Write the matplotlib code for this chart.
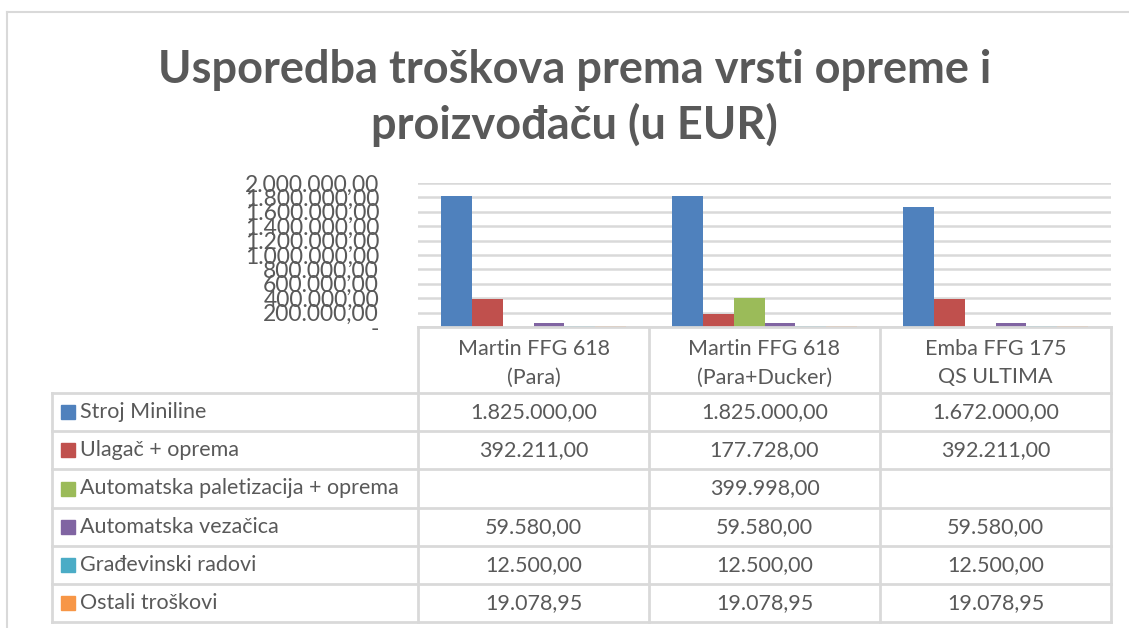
import matplotlib
matplotlib.use("Agg")
import matplotlib.pyplot as plt
import numpy as np

# ---- data ----
categories = ["Martin FFG 618\n(Para)", "Martin FFG 618\n(Para+Ducker)", "Emba FFG 175\nQS ULTIMA"]
series_names = ["Stroj Miniline", "Ulagač + oprema", "Automatska paletizacija + oprema",
                "Automatska vezačica", "Građevinski radovi", "Ostali troškovi"]
stroj = [1825000.00, 1825000.00, 1672000.00]
ulagac = [392211.00, 177728.00, 392211.00]
paletizacija = [None, 399998.00, None]
vezacica = [59580.00, 59580.00, 59580.00]
gradevinski = [12500.00, 12500.00, 12500.00]
ostali = [19078.95, 19078.95, 19078.95]
series_values = [stroj, ulagac, paletizacija, vezacica, gradevinski, ostali]
y_ticks = [0, 200000, 400000, 600000, 800000, 1000000, 1200000, 1400000, 1600000, 1800000, 2000000]
title = "Usporedba troškova prema vrsti opreme i\nproizvođaču (u EUR)"

colors = ["#4F81BD", "#C0504D", "#9BBB59", "#8064A2", "#4BACC6", "#F79646"]
TXT = "#595959"
GRID = "#D9D9D9"
FONT = "Lato"

def fmt(v):
    if v is None:
        return ""
    s = f"{v:,.2f}"
    return s.replace(",", "X").replace(".", ",").replace("X", ".")

W, H = 1129, 628
fig = plt.figure(figsize=(W / 100, H / 100), dpi=100)
fig.patch.set_facecolor("white")

def fx(px):
    return px / W

def fy(py):
    return 1 - py / H

# plot area
L, R, T, B = 418, 1111, 183, 327
ax = fig.add_axes([fx(L), fy(B), fx(R) - fx(L), fy(T) - fy(B)])
n_cat = len(categories)
n_ser = len(series_values)
ax.set_xlim(-0.5, n_cat - 0.5)
ax.set_ylim(0, 2000000)
bw = 1 / 7.5
x = np.arange(n_cat)
for i, (vals, c) in enumerate(zip(series_values, colors)):
    v = [np.nan if a is None else a for a in vals]
    ax.bar(x + (i - (n_ser - 1) / 2) * bw, v, width=bw, color=c, zorder=3)
ax.set_yticks(y_ticks)
ax.yaxis.grid(True, color=GRID, linewidth=1.8, zorder=0)
ax.set_axisbelow(True)
for s in ax.spines.values():
    s.set_visible(False)
ax.tick_params(axis="y", length=0, pad=28)
ax.tick_params(axis="x", length=0)
ax.set_xticks([])
ax.set_yticklabels(["-" if t == 0 else fmt(float(t)) for t in y_ticks],
                   fontsize=16.5, color=TXT, family=FONT)

# overlay for table, title, frame
ov = fig.add_axes([0, 0, 1, 1], zorder=5)
ov.set_xlim(0, W)
ov.set_ylim(H, 0)
ov.axis("off")
ov.patch.set_alpha(0)

# chart frame
ov.plot([7, W], [12, 12], color=GRID, lw=1.5)
ov.plot([7, 7], [12, H], color=GRID, lw=1.5)

ov.text(W / 2 + 10, 98, title, ha="center", va="center", fontsize=32.5, fontweight="bold",
        color=TXT, family=FONT, linespacing=1.35)

# table
col_edges = [L + k * (R - L) / n_cat for k in range(n_cat + 1)]
row_edges = [393, 431, 469, 508, 546, 584, 622]
lw = 2.0
ov.plot([L, R], [B, B], color=GRID, lw=lw)
for xe in col_edges:
    ov.plot([xe, xe], [B, row_edges[-1]], color=GRID, lw=lw)
ov.plot([52, 52], [row_edges[0], row_edges[-1]], color=GRID, lw=lw)
for ye in row_edges:
    ov.plot([52, R], [ye, ye], color=GRID, lw=lw)

for j, cat in enumerate(categories):
    cx = (col_edges[j] + col_edges[j + 1]) / 2
    ov.text(cx, (B + row_edges[0]) / 2 + 3, cat, ha="center", va="center", fontsize=15.5,
            color=TXT, family=FONT, linespacing=1.55)

for i, (name, vals, c) in enumerate(zip(series_names, series_values, colors)):
    cy = (row_edges[i] + row_edges[i + 1]) / 2
    ov.add_patch(plt.Rectangle((61, cy - 7), 14, 14, color=c, transform=ov.transData))
    ov.text(80, cy, name, ha="left", va="center", fontsize=15.5, color=TXT, family=FONT)
    for j, v in enumerate(vals):
        cx = (col_edges[j] + col_edges[j + 1]) / 2
        ov.text(cx, cy, fmt(v), ha="center", va="center", fontsize=15.5, color=TXT, family=FONT)

fig.savefig("out.png", dpi=100, facecolor="white")
